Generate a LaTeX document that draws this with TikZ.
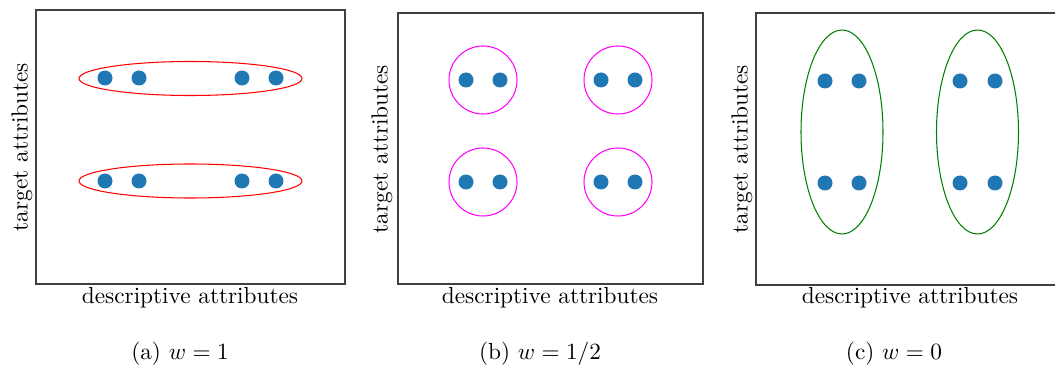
\documentclass[tikz,border=0pt]{standalone}
\usepackage{amsmath}
\usepackage{xcolor}
\usepackage{tikz}
\definecolor{dotcol}{HTML}{1F77B4}
\definecolor{grncol}{HTML}{008000}
\definecolor{magcol}{HTML}{FF00FF}

\begin{document}
\begin{tikzpicture}[x=0.43pt,y=-0.43pt,
   frame/.style={draw=black!75,line width=0.5pt},
   pt/.style={fill=dotcol},
   grp/.style={line width=0.45pt},
   axlbl/.style={inner sep=0pt},
]
\path[use as bounding box,clip] (0,0) rectangle (1055,365);

% (a) w=1
\draw[frame] (36,10) rectangle (345,284);
\foreach \px in {105,139,242,276}
  \foreach \py in {78,181}
    \fill[pt] (\px,\py) circle[radius=7.5];
\draw[grp,red] (190.5,78.5) ellipse[x radius=111.5,y radius=17];
\draw[grp,red] (190.5,181) ellipse[x radius=111.5,y radius=17];
\node[axlbl,rotate=90] (ylabA) at (22,147) {target attributes};
\node[axlbl] (xlabA) at (190,298) {descriptive attributes};
\node[axlbl] (capA) at (180,354) {(a) $w = 1$};

% (b) w=1/2
\draw[frame] (398,13) rectangle (703,284);
\foreach \px in {466,500,601,635}
  \foreach \py in {80,182}
    \fill[pt] (\px,\py) circle[radius=7.5];
\foreach \cx in {483,618}
  \foreach \cy in {80,182}
    \draw[grp,magcol] (\cx,\cy) circle[radius=34];
\node[axlbl,rotate=90] (ylabB) at (382,149) {target attributes};
\node[axlbl] (xlabB) at (550,298) {descriptive attributes};
\node[axlbl] (capB) at (540,354) {(b) $w = 1/2$};

% (c) w=0
\draw[frame] (756,13) rectangle (1065,285);
\foreach \px in {825,859,960,995}
  \foreach \py in {81,183}
    \fill[pt] (\px,\py) circle[radius=7.5];
\draw[grp,grncol] (842,132) ellipse[x radius=41,y radius=102];
\draw[grp,grncol] (977.5,132) ellipse[x radius=41,y radius=102];
\node[axlbl,rotate=90] (ylabC) at (742,149) {target attributes};
\node[axlbl] (xlabC) at (910,298) {descriptive attributes};
\node[axlbl] (capC) at (894,354) {(c) $w = 0$};
\end{tikzpicture}
\end{document}
